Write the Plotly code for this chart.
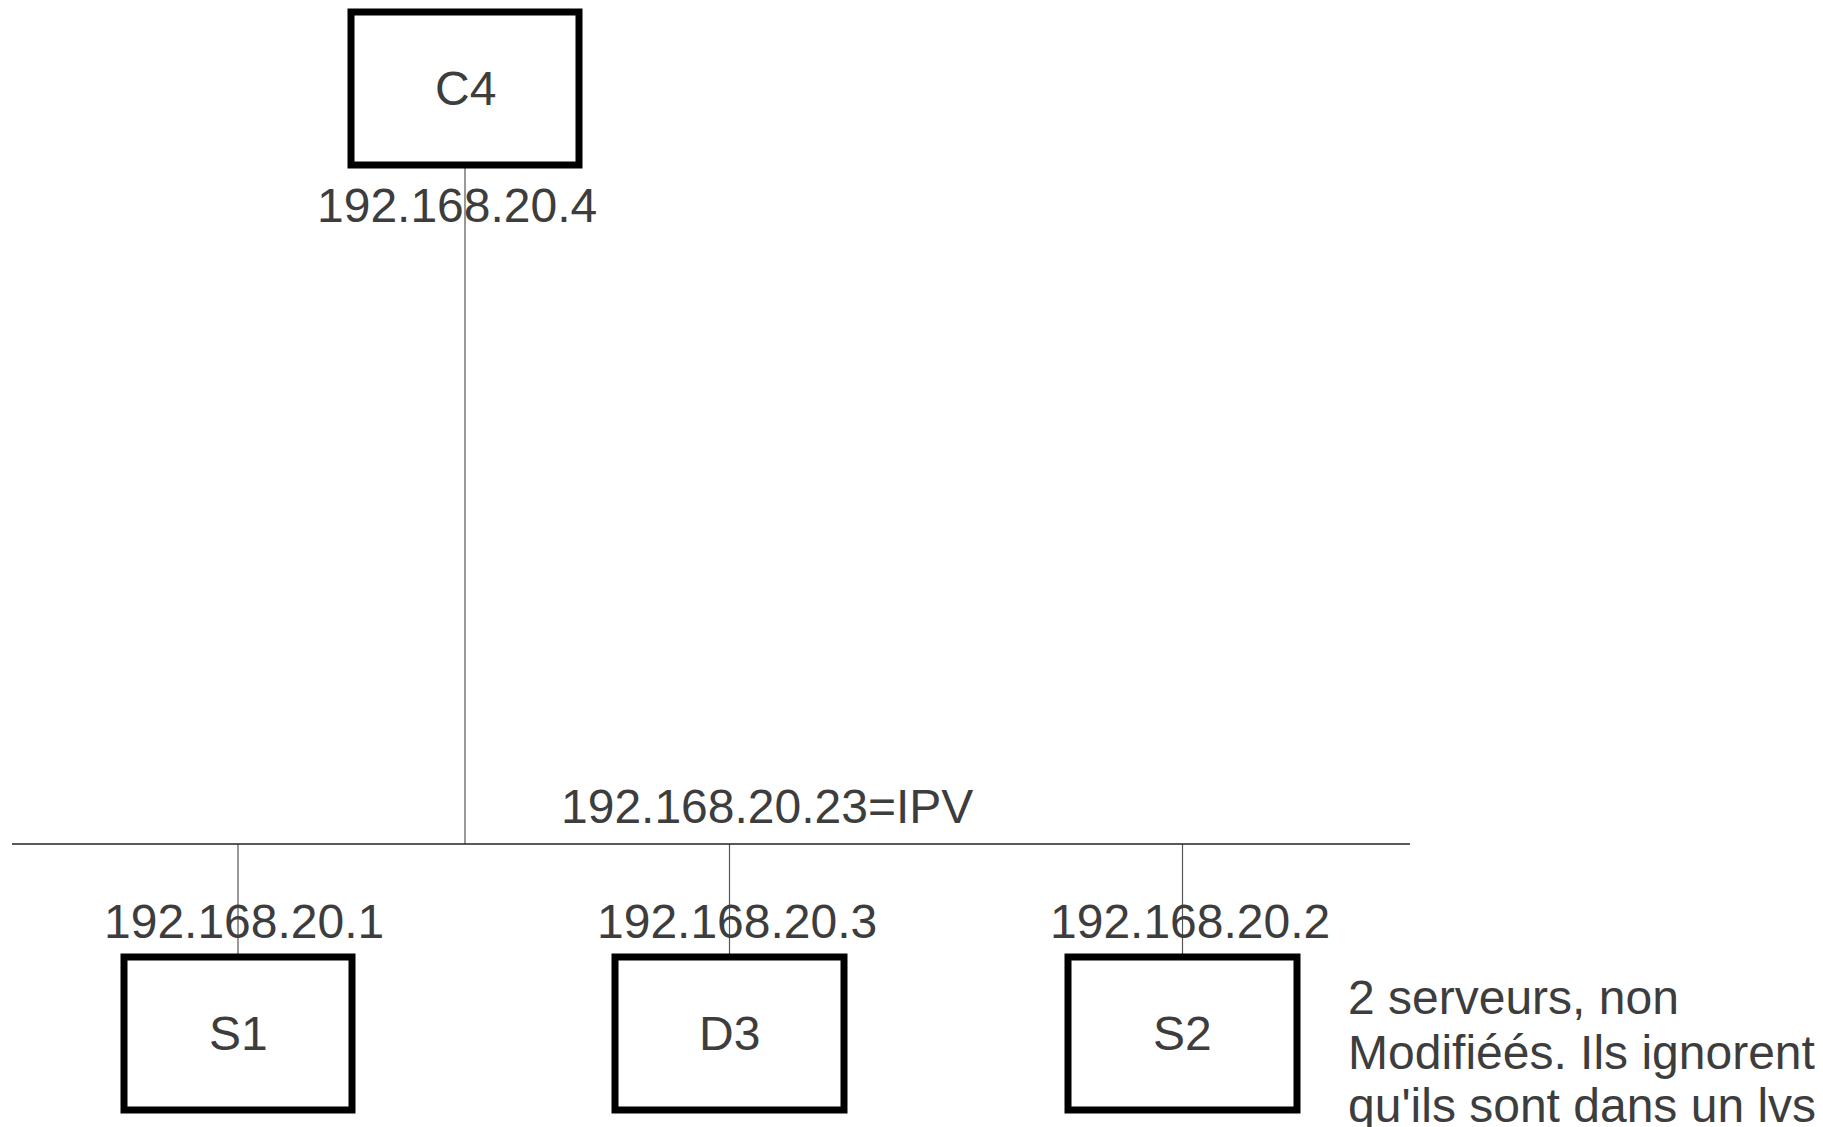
import plotly.graph_objects as go

W, H = 1823, 1127

# Nodes: name, box left, box top, box right, box bottom
node_names = ["C4", "S1", "D3", "S2"]
node_x0 = [351, 124, 615, 1068]
node_y0 = [12, 957, 957, 957]
node_x1 = [579, 352, 844, 1297]
node_y1 = [165, 1110, 1110, 1110]

# IP labels for each node
ip_labels = ["192.168.20.4", "192.168.20.1", "192.168.20.3", "192.168.20.2"]
ip_x = [457, 244, 737, 1190]
ip_y = [205, 921, 921, 921]

# Bus line
bus_x0, bus_x1, bus_y = 12, 1410, 844
bus_label = "192.168.20.23=IPV"
bus_label_x, bus_label_y = 559, 806

# Note
note_lines = ["2 serveurs, non", "Modifiéés. Ils ignorent", "qu'ils sont dans un lvs"]
note_x = 1346
note_y = [997, 1052, 1105]

FONT = "Liberation Sans, Arial, sans-serif"
TXT = "#3d3d3d"
FS = 48

fig = go.Figure()
fig.add_trace(go.Scatter(x=[0, W], y=[0, H], mode="markers",
                         marker=dict(opacity=0), hoverinfo="skip", showlegend=False))

shapes = []
# connection lines
for i, n in enumerate(node_names):
    cx = (node_x0[i] + node_x1[i]) / 2
    if node_y1[i] < bus_y:
        ya, yb = node_y1[i], bus_y
    else:
        ya, yb = bus_y, node_y0[i]
    shapes.append(dict(type="line", x0=cx, x1=cx, y0=ya, y1=yb,
                       line=dict(color="#555555", width=1.2), layer="below"))
shapes.append(dict(type="line", x0=bus_x0, x1=bus_x1, y0=bus_y, y1=bus_y,
                   line=dict(color="#222222", width=1.6)))
# boxes
for i, n in enumerate(node_names):
    shapes.append(dict(type="rect", x0=node_x0[i], x1=node_x1[i], y0=node_y0[i], y1=node_y1[i],
                       line=dict(color="#000000", width=7), fillcolor="rgba(0,0,0,0)"))

annotations = []
for i, n in enumerate(node_names):
    annotations.append(dict(x=(node_x0[i] + node_x1[i]) / 2, y=(node_y0[i] + node_y1[i]) / 2,
                            text=n, showarrow=False, xanchor="center", yanchor="middle",
                            font=dict(family=FONT, size=FS, color=TXT)))
    annotations.append(dict(x=ip_x[i], y=ip_y[i], text=ip_labels[i], showarrow=False,
                            xanchor="center", yanchor="middle",
                            font=dict(family=FONT, size=FS, color=TXT)))
annotations.append(dict(x=bus_label_x, y=bus_label_y, text=bus_label, showarrow=False,
                        xanchor="left", yanchor="middle",
                        font=dict(family=FONT, size=FS, color=TXT)))
for t, yy in zip(note_lines, note_y):
    annotations.append(dict(x=note_x, y=yy, text=t, showarrow=False,
                            xanchor="left", yanchor="middle",
                            font=dict(family=FONT, size=FS, color=TXT)))

fig.update_layout(
    width=W, height=H, margin=dict(l=0, r=0, t=0, b=0),
    paper_bgcolor="white", plot_bgcolor="white",
    xaxis=dict(range=[0, W], visible=False, fixedrange=True),
    yaxis=dict(range=[H, 0], visible=False, fixedrange=True),
    shapes=shapes, annotations=annotations, showlegend=False,
)

fig.write_html("out.html", config={"displayModeBar": False},
               post_script="document.body.style.margin='0';document.body.style.overflow='hidden';")
